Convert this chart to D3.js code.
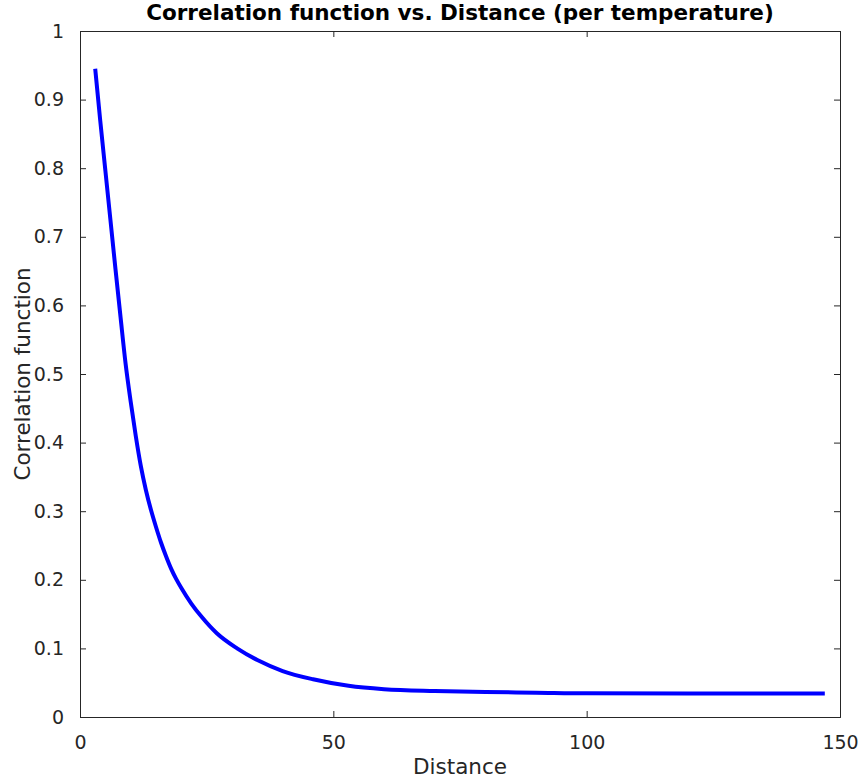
<!DOCTYPE html>
<html>
<head>
<meta charset="utf-8">
<script src="https://cdn.jsdelivr.net/npm/d3@7"></script>
<style>
  body { margin: 0; background: #fff; }
  svg { display: block; font-family: "DejaVu Sans", sans-serif; }
</style>
</head>
<body>
<div id="chart"></div>
<script>
// values
const distances = [3, 4, 5, 6, 7, 8, 9, 10, 11, 12, 13, 14, 15, 16, 17, 18, 19, 20, 22, 24, 27, 31, 35, 40, 46, 53, 60, 70, 80, 90, 100, 120, 147];
const correlation = [0.945, 0.869, 0.797, 0.725, 0.653, 0.583, 0.515, 0.460, 0.410, 0.366, 0.331, 0.302, 0.277, 0.254, 0.234, 0.216, 0.201, 0.188, 0.165, 0.146, 0.122, 0.100, 0.083, 0.067, 0.055, 0.0455, 0.0405, 0.0378, 0.0364, 0.0355, 0.0345, 0.0343, 0.0342];
const xTicks = [0, 50, 100, 150];
const yTicks = [0, 0.1, 0.2, 0.3, 0.4, 0.5, 0.6, 0.7, 0.8, 0.9, 1];

function drawChart(selectorContainer) {
  const margin = { top: 31, right: 21, bottom: 65, left: 80 },
  width = 861 - margin.left - margin.right,
  height = 782 - margin.top - margin.bottom;

  const axisColor = "#262626";
  const tickLen = 6;

  const svg = d3.select(selectorContainer).append("svg")
    .attr("width", 861)
    .attr("height", 782)
    .append("g")
    .attr("transform", "translate(" + margin.left + "," + margin.top + ")");

  const x = d3.scaleLinear().domain([0, 150]).range([0, width]);
  const y = d3.scaleLinear().domain([0, 1]).range([height, 0]);

  const fmt = d => d3.format("~g")(d);

  // bottom + left with labels, top + right just ticks (box on)
  const xAxis = d3.axisBottom(x).tickValues(xTicks).tickSize(-tickLen).tickPadding(13 + tickLen).tickFormat(fmt);
  const yAxis = d3.axisLeft(y).tickValues(yTicks).tickSize(-tickLen).tickPadding(10 + tickLen).tickFormat(fmt);
  const xTop = d3.axisTop(x).tickValues(xTicks).tickSize(-tickLen).tickFormat("");
  const yRight = d3.axisRight(y).tickValues(yTicks).tickSize(-tickLen).tickFormat("");

  const gx = svg.append("g").attr("transform", "translate(0," + height + ")").call(xAxis);
  const gy = svg.append("g").call(yAxis);
  const gt = svg.append("g").call(xTop);
  const gr = svg.append("g").attr("transform", "translate(" + width + ",0)").call(yRight);

  [gx, gy, gt, gr].forEach(g => {
    g.selectAll("path, line").attr("stroke", axisColor).attr("stroke-width", 1);
    g.selectAll("text").attr("fill", axisColor).style("font-size", "19px");
    g.attr("font-family", null);
  });
  gx.selectAll(".tick text").attr("dy", "0.71em");

  const line = d3.line()
    .x((d, i) => x(distances[i]))
    .y(d => y(d))
    .curve(d3.curveMonotoneX);

  svg.append("path")
    .datum(correlation)
    .attr("fill", "none")
    .attr("stroke", "#0000ff")
    .attr("stroke-width", 4)
    .attr("d", line);

  svg.append("text")
    .attr("x", width / 2)
    .attr("y", -11)
    .attr("text-anchor", "middle")
    .style("font-size", "21.5px")
    .style("font-weight", "bold")
    .attr("fill", "#000")
    .text("Correlation function vs. Distance (per temperature)");

  svg.append("text")
    .attr("x", width / 2)
    .attr("y", height + 57)
    .attr("text-anchor", "middle")
    .style("font-size", "21.5px")
    .attr("fill", axisColor)
    .text("Distance");

  svg.append("text")
    .attr("transform", "translate(" + (-50) + "," + (height / 2) + ") rotate(-90)")
    .attr("text-anchor", "middle")
    .style("font-size", "21.5px")
    .attr("fill", axisColor)
    .text("Correlation function");
}

window.onload = () => {
  drawChart("#chart");
}
</script>
</body>
</html>
